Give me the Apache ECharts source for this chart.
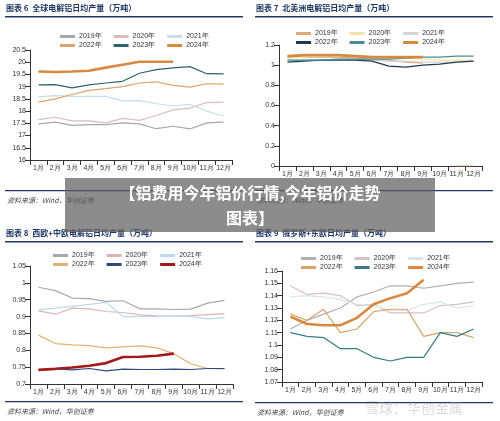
<!DOCTYPE html>
<html><head><meta charset="utf-8">
<script src="https://cdn.jsdelivr.net/npm/echarts@6/dist/echarts.min.js"></script>
<style>body{margin:0;background:#fff}#c{width:500px;height:421px}</style>
</head><body><div id="c"></div>
<script>
var months=["1月","2月","3月","4月","5月","6月","7月","8月","9月","10月","11月","12月"];
var years=["2019年","2020年","2021年","2022年","2023年","2024年"];
// 图表6 全球
var g6=[
 [17.48,17.55,17.42,17.45,17.45,17.52,17.48,17.28,17.38,17.27,17.52,17.55],
 [17.65,17.75,17.6,17.6,17.52,17.7,17.62,17.82,18.05,18.12,18.35,18.37],
 [18.58,18.63,18.6,18.6,18.6,18.42,18.43,18.3,18.22,18.28,18.0,17.8],
 [18.37,18.5,18.68,18.85,18.92,19.0,19.15,19.2,19.05,18.98,19.12,19.1],
 [19.07,19.08,18.95,19.07,19.15,19.22,19.55,19.7,19.77,19.82,19.53,19.52],
 [19.62,19.6,19.62,19.65,19.78,19.9,20.02,20.02,20.02]];
// 图表7 北美洲
var g7=[
 [1.08,1.08,1.08,1.08,1.07,1.06,1.05,1.03,1.02,null,0,0],
 [1.07,1.08,1.09,1.1,1.09,1.08,1.07,1.07,1.06,1.05,1.05,1.05],
 [1.05,1.05,1.05,1.06,1.06,1.05,1.04,1.04,1.03,1.03,1.03,1.04],
 [1.03,1.04,1.05,1.05,1.05,1.04,0.99,0.98,1.0,1.01,1.03,1.04],
 [1.05,1.05,1.05,1.06,1.06,1.06,1.06,1.07,1.08,1.08,1.09,1.09],
 [1.09,1.1,1.1,1.1,1.09,1.08,1.08,1.08,1.08]];
// 图表8 西欧+中欧
var g8=[
 [0.987,0.977,0.955,0.953,0.945,0.947,0.923,0.923,0.921,0.922,0.94,0.948],
 [0.917,0.907,0.925,0.923,0.915,0.912,0.905,0.902,0.901,0.903,0.906,0.909],
 [0.92,0.925,0.93,0.936,0.942,0.9,0.9,0.9,0.902,0.9,0.893,0.897],
 [0.845,0.82,0.816,0.814,0.807,0.81,0.813,0.807,0.79,0.76,0.746,0.745],
 [0.742,0.745,0.742,0.746,0.739,0.744,0.743,0.743,0.744,0.743,0.746,0.746],
 [0.742,0.745,0.749,0.754,0.762,0.78,0.781,0.784,0.79]];
// 图表9 俄罗斯+东欧
var g9=[
 [1.113,1.12,1.125,1.13,1.139,1.143,1.148,1.148,1.146,1.148,1.15,1.151],
 [1.148,1.141,1.142,1.14,1.132,1.133,1.126,1.126,1.126,1.132,1.133,1.135],
 [1.139,1.14,1.139,1.137,1.133,1.132,1.128,1.128,1.133,1.135,1.13,1.132],
 [1.125,1.12,1.129,1.11,1.113,1.127,1.129,1.129,1.107,1.11,1.11,1.106],
 [1.11,1.107,1.106,1.097,1.097,1.09,1.087,1.09,1.09,1.11,1.107,1.113],
 [1.123,1.117,1.116,1.116,1.122,1.133,1.138,1.142,1.153]];

var panels=[
 {id:"6",data:g6,min:16,max:20.5,iv:0.5,grid:{left:30,right:268,top:50,bottom:261},lx:60,ly:33,
  colors:["#a8a8a8","#dcbcbc","#c9dde8","#dba46c","#2f6272","#d9893f"]},
 {id:"7",data:g7,min:0,max:1.2,iv:0.2,grid:{left:279,right:18,top:45,bottom:255},lx:296,ly:30,
  colors:["#e2a878","#f3e3a8","#d4d4d4","#1f3850","#4a8d98","#d58a42"]},
 {id:"8",data:g8,min:0.7,max:1.05,iv:0.05,grid:{left:30,right:267,top:266,bottom:37},lx:53,ly:252,
  colors:["#a8a8a8","#dbb6b6","#bcdbea","#e1b274","#2d4a7a","#a31a1a"]},
 {id:"9",data:g9,min:1.07,max:1.16,iv:0.01,grid:{left:282,right:18,top:271,bottom:39},lx:301,ly:255,
  colors:["#b0b0b0","#d8c0c0","#d6e6ee","#dba46c","#3a7a84","#d9893f"]}
];
var titles=[["图表 6  全球电解铝日均产量（万吨）",6,4],["图表 7  北美洲电解铝日均产量（万吨）",256,4],
 ["图表 8  西欧+中欧电解铝日均产量（万吨）",6,229],["图表 9  俄罗斯+东欧日均产量（万吨）",256,229]];

var grids=[],xAxis=[],yAxis=[],series=[],legend=[],graphic=[];
panels.forEach(function(p,i){
  grids.push(p.grid);
  xAxis.push({type:"category",gridIndex:i,data:months,boundaryGap:true,
    axisLine:{lineStyle:{color:"#333"}},axisTick:{show:true,lineStyle:{color:"#333"}},
    axisLabel:{fontSize:7,color:"#333",margin:5,interval:0}});
  yAxis.push({type:"value",gridIndex:i,min:p.min,max:p.max,interval:p.iv,splitLine:{show:false},
    axisLine:{show:true,lineStyle:{color:"#333"}},axisTick:{show:true,lineStyle:{color:"#333"}},
    axisLabel:{fontSize:7,color:"#333",margin:4}});
  years.forEach(function(y,k){
    series.push({name:y+"#"+p.id,type:"line",xAxisIndex:i,yAxisIndex:i,data:p.data[k],
      symbol:"none",color:p.colors[k],lineStyle:{width:k==5?2.6:1.2},z:k==5?5:2});
  });
  [0,3].forEach(function(s,r){
    legend.push({left:p.lx,top:p.ly+r*9,itemWidth:15,itemHeight:3,itemGap:12,icon:"rect",
      data:years.slice(s,s+3).map(function(y){return y+"#"+p.id;}),
      formatter:function(n){return n.split("#")[0];},
      textStyle:{fontSize:7,color:"#333",padding:[0,0,0,-1]},padding:0});
  });
});
titles.forEach(function(t){
  graphic.push({type:"text",left:t[1],top:t[2],style:{text:t[0],font:"bold 8px 'Noto Sans CJK SC'",fill:"#1f3864"}});
  graphic.push({type:"rect",shape:{x:t[1]-1,y:t[2]+12,width:238,height:1.5},style:{fill:"#1f3864"}});
});
[[5,190],[255,190],[5,401],[255,402]].forEach(function(s){
  graphic.push({type:"rect",shape:{x:s[0],y:s[1],width:238,height:1.2},style:{fill:"#1f3864"}});
  graphic.push({type:"text",left:s[0]+2,top:s[1]+7,style:{text:"资料来源：Wind，华创证券",font:"italic 7px 'Noto Sans CJK SC'",fill:"#444"}});
});
graphic.push({type:"text",left:365,top:401,style:{text:"雪球：华创金属",font:"14px 'Noto Sans CJK SC'",fill:"rgba(150,150,150,0.35)"}});
graphic.push({type:"rect",shape:{x:65,y:178,width:370,height:54},style:{fill:"rgba(95,95,95,0.72)"},z:100});
graphic.push({type:"text",x:250,y:193,z:101,style:{text:"【铝费用今年铝价行情,今年铝价走势",align:"center",verticalAlign:"middle",font:"bold 16px 'Noto Sans CJK SC'",fill:"#fff"}});
graphic.push({type:"text",x:250,y:218,z:101,style:{text:"图表】",align:"center",verticalAlign:"middle",font:"bold 16px 'Noto Sans CJK SC'",fill:"#fff"}});

var chart=echarts.init(document.getElementById("c"));
chart.setOption({animation:false,grid:grids,xAxis:xAxis,yAxis:yAxis,series:series,legend:legend,graphic:graphic});
</script></body></html>
